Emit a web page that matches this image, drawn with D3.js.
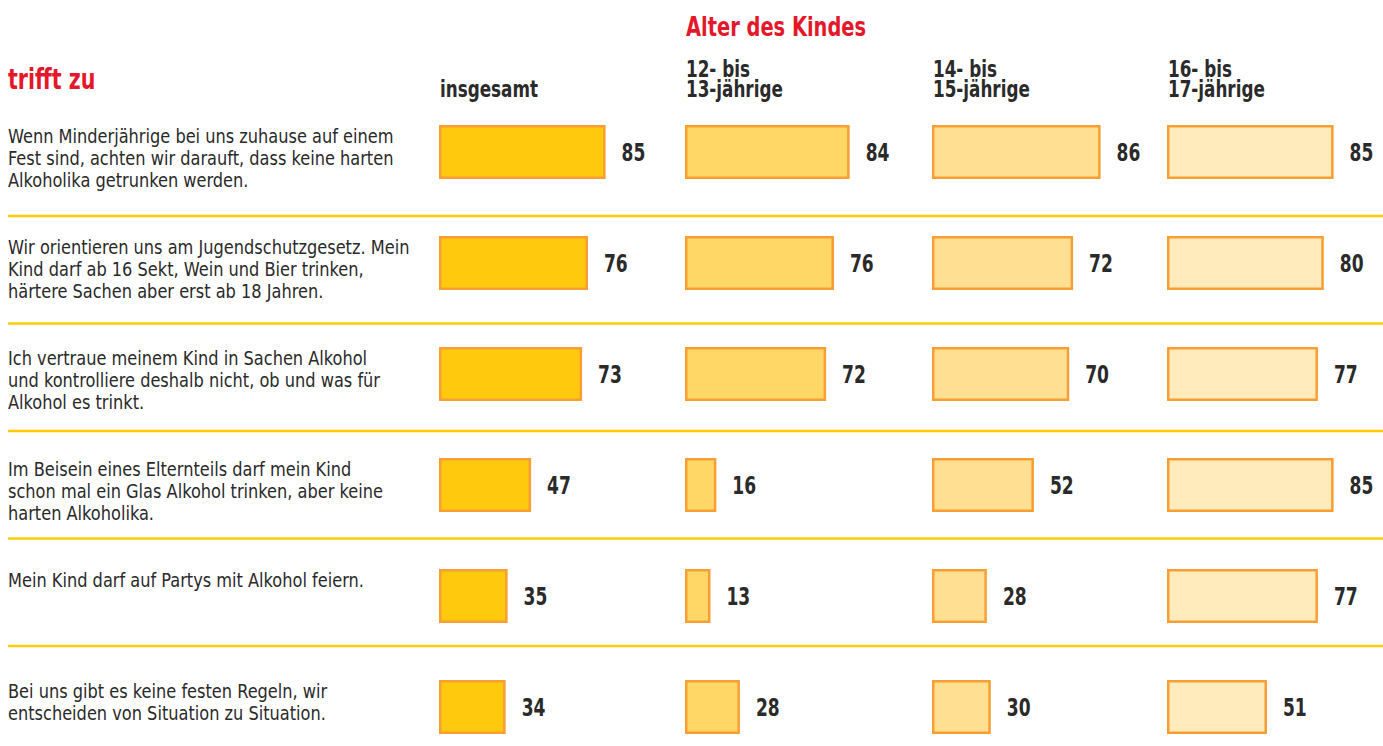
<!DOCTYPE html>
<html>
<head>
<meta charset="utf-8">
<script src="https://cdn.jsdelivr.net/npm/d3@7"></script>
<style>
  html, body { margin: 0; padding: 0; background: #fff; }
  svg { display: block; }
  .cond { font-family: 'DejaVu Sans Condensed', 'DejaVu Sans', sans-serif; font-stretch: condensed; }
</style>
</head>
<body>
<svg id="chart" width="1383" height="746"></svg>
<script>
// ---- data ----
const statements = [
  ["Wenn Minderjährige bei uns zuhause auf einem", "Fest sind, achten wir darauft, dass keine harten", "Alkoholika getrunken werden."],
  ["Wir orientieren uns am Jugendschutzgesetz. Mein", "Kind darf ab 16 Sekt, Wein und Bier trinken,", "härtere Sachen aber erst ab 18 Jahren."],
  ["Ich vertraue meinem Kind in Sachen Alkohol", "und kontrolliere deshalb nicht, ob und was für", "Alkohol es trinkt."],
  ["Im Beisein eines Elternteils darf mein Kind", "schon mal ein Glas Alkohol trinken, aber keine", "harten Alkoholika."],
  ["Mein Kind darf auf Partys mit Alkohol feiern."],
  ["Bei uns gibt es keine festen Regeln, wir", "entscheiden von Situation zu Situation."]
];
const groups = ["insgesamt", "12- bis 13-jährige", "14- bis 15-jährige", "16- bis 17-jährige"];
const groupHeaderLines = [["insgesamt"], ["12- bis", "13-jährige"], ["14- bis", "15-jährige"], ["16- bis", "17-jährige"]];
const insgesamt = [85, 76, 73, 47, 35, 34];
const age12to13 = [84, 76, 72, 16, 13, 28];
const age14to15 = [86, 72, 70, 52, 28, 30];
const age16to17 = [85, 80, 77, 85, 77, 51];
const series = [insgesamt, age12to13, age14to15, age16to17];
const title = "Alter des Kindes";
const subtitle = "trifft zu";

// ---- styles ----
const fills = ["#FFC90D", "#FFD766", "#FFE093", "#FFEBBC"];
const strokeColor = "#F89E33";
const red = "#E4182B";
const textColor = "#2a2a2a";
const sepColor = "#FFCB05";

const svg = d3.select("#chart");

const colStart = d3.scaleOrdinal().domain(d3.range(groups.length)).range([439, 685, 932, 1167]);
const xLen = d3.scaleLinear().domain([0, 100]).range([0, 196]);
const rowY = d3.scaleLinear().domain([0, statements.length - 1]).range([125, 680]);
const sepY = d3.scaleLinear().domain([0, statements.length - 2]).range([216, 646]);
const barH = 54;

// helper: horizontally condensed text
function condText(parent, x, y, sx) {
  return parent.append("g").attr("transform", `translate(${x},${y}) scale(${sx},1)`)
    .append("text").attr("class", "cond").attr("x", 0).attr("y", 0);
}

// Titles
condText(svg, 686, 36, 0.8)
  .attr("font-size", 27).attr("font-weight", "bold").attr("fill", red)
  .text(title);
condText(svg, 8, 89, 0.79)
  .attr("font-size", 29).attr("font-weight", "bold").attr("fill", red)
  .text(subtitle);

// Column headers
groupHeaderLines.forEach((lines, j) => {
  const n = lines.length;
  lines.forEach((ln, k) => {
    condText(svg, colStart(j) + 1, 97 - (n - 1 - k) * 20.5, 0.83)
      .attr("font-size", 22.5).attr("font-weight", "bold").attr("fill", textColor)
      .text(ln);
  });
});

// Separators
svg.selectAll("line.sep")
  .data(d3.range(statements.length - 1))
  .join("line").attr("class", "sep")
  .attr("x1", 8).attr("x2", 1383)
  .attr("y1", d => sepY(d)).attr("y2", d => sepY(d))
  .attr("stroke", sepColor).attr("stroke-width", 2.5);

// Statements
statements.forEach((lines, i) => {
  lines.forEach((ln, k) => {
    condText(svg, 8, rowY(i) + 18 + k * 22, 0.9)
      .attr("font-size", 20).attr("fill", textColor)
      .text(ln);
  });
});

// Bars and labels
series.forEach((vals, j) => {
  const g = svg.append("g");
  g.selectAll("rect")
    .data(vals)
    .join("rect")
    .attr("x", colStart(j) + 1.25)
    .attr("y", (d, i) => rowY(i) + 1.25)
    .attr("width", d => xLen(d) - 2.5)
    .attr("height", barH - 2.5)
    .attr("fill", fills[j])
    .attr("stroke", strokeColor)
    .attr("stroke-width", 2.5);
  g.selectAll("g.lbl")
    .data(vals)
    .join("g").attr("class", "lbl")
    .attr("transform", (d, i) => `translate(${colStart(j) + xLen(d) + 16},${rowY(i) + barH / 2 + 9}) scale(0.76,1)`)
    .append("text").attr("class", "cond")
    .attr("font-size", 25).attr("font-weight", "bold").attr("fill", textColor)
    .text(d => d);
});
</script>
</body>
</html>
